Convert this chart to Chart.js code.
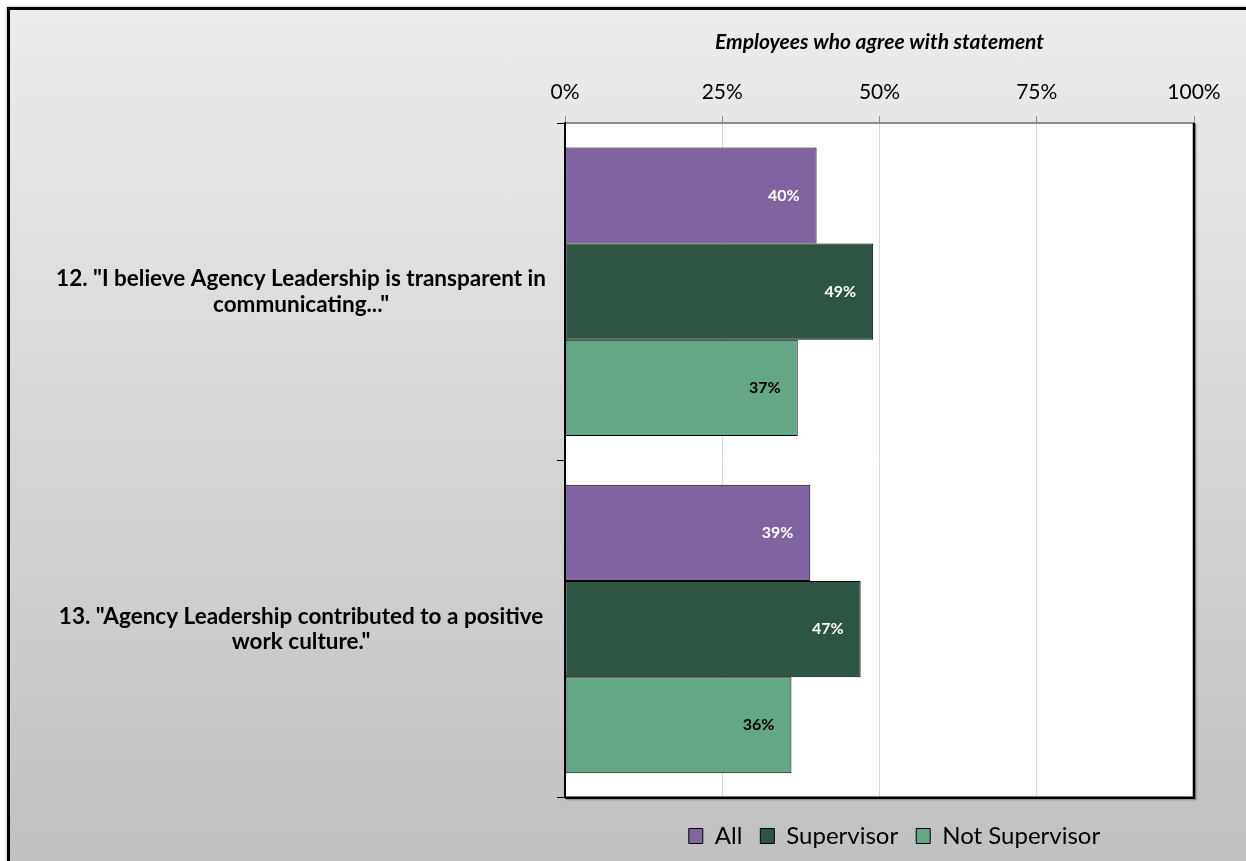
<!DOCTYPE html>
<html>
<head>
<meta charset="utf-8">
<script src="https://cdn.jsdelivr.net/npm/chart.js@4"></script>
<style>
  html, body { margin: 0; padding: 0; background: #fff; overflow: hidden; }
  .panel {
    position: absolute; left: 7px; top: 7px; width: 1300px; height: 900px;
    border: 3px solid #000;
    background: linear-gradient(#ececec, #bebebe);
    box-shadow: 0 0 3px rgba(0, 0, 0, 0.35);
  }
  #agreeChart { position: absolute; left: 0; top: 0; }
</style>
</head>
<body>
<div class="panel"></div>
<canvas id="agreeChart" width="1246" height="861"></canvas>
<script>
/* ---- Survey data ---- */

const questions = [
  ['12. "I believe Agency Leadership is transparent in', 'communicating..."'],
  ['13. "Agency Leadership contributed to a positive', 'work culture."'],
];
const seriesNames = ['All', 'Supervisor', 'Not Supervisor'];
const allValues = [40, 39];
const supervisorValues = [49, 47];
const notSupervisorValues = [37, 36];
const axisTicks = [0, 25, 50, 75, 100];

/* ---- Theme ---- */

const FONT = 'Lato, "Open Sans", sans-serif';
const seriesColors = ['#8064a2', '#2e5443', '#63a787'];
const labelColors = ['#ffffff', '#ffffff', '#000000'];

/* ---- Plugins ---- */

// white plot area plus the dark frame on its right and bottom edges
const plotFrame = {
  id: 'plotFrame',
  beforeDraw(chart) {
    const { ctx, chartArea: a } = chart;
    ctx.save();
    ctx.fillStyle = '#ffffff';
    ctx.fillRect(a.left, a.top, a.right - a.left, a.bottom - a.top);
    ctx.restore();
  },
  afterDraw(chart) {
    const { ctx, chartArea: a } = chart;
    ctx.save();
    ctx.strokeStyle = '#000';
    ctx.lineWidth = 2.5;
    ctx.shadowColor = 'rgba(0,0,0,0.35)';
    ctx.shadowOffsetX = 1;
    ctx.shadowOffsetY = 1;
    ctx.shadowBlur = 2;
    ctx.beginPath();
    ctx.moveTo(a.right, a.top);
    ctx.lineTo(a.right, a.bottom);
    ctx.lineTo(a.left, a.bottom);
    ctx.stroke();
    ctx.restore();
  },
};

// the legend sits centred on the whole panel, a little right of the plot
const legendShift = {
  id: 'legendShift',
  afterLayout(chart) {
    chart.legend.left += 15;
    chart.legend.right += 15;
  },
};

// percentage written just inside the end of each bar
const valueLabels = {
  id: 'valueLabels',
  afterDatasetsDraw(chart) {
    const { ctx } = chart;
    ctx.save();
    ctx.font = `bold 16px ${FONT}`;
    ctx.textAlign = 'right';
    ctx.textBaseline = 'middle';
    chart.data.datasets.forEach((ds, i) => {
      ctx.fillStyle = labelColors[i];
      chart.getDatasetMeta(i).data.forEach((bar, j) => {
        ctx.fillText(`${ds.data[j]}%`, bar.x - 17, bar.y);
      });
    });
    ctx.restore();
  },
};

/* ---- Chart ---- */

const seriesData = [allValues, supervisorValues, notSupervisorValues];

new Chart(document.getElementById('agreeChart'), {
  type: 'bar',
  data: {
    labels: questions,
    datasets: seriesNames.map((name, i) => ({
      label: name,
      data: seriesData[i],
      backgroundColor: seriesColors[i],
      borderColor: '#000',
      borderWidth: 1,
      borderSkipped: false,
      categoryPercentage: 0.855,
      barPercentage: 1,
    })),
  },
  options: {
    indexAxis: 'y',
    responsive: false,
    animation: false,
    layout: { padding: { top: 0, right: 52, bottom: 3, left: 10 } },
    plugins: {
      tooltip: { enabled: false },
      legend: {
        position: 'bottom',
        fullSize: false,
        title: { display: true, text: ' ', font: { size: 1 }, padding: { top: 7, bottom: 0 } },
        labels: {
          color: '#000',
          font: { family: FONT, size: 24 },
          boxWidth: 14,
          boxHeight: 15,
          padding: 18,
        },
      },
    },
    scales: {
      x: {
        position: 'top',
        min: 0,
        max: 100,
        afterBuildTicks: (scale) => {
          scale.ticks = axisTicks.map((v) => ({ value: v }));
        },
        afterFit: (scale) => { scale.height = 123; },
        ticks: {
          color: '#000',
          font: { family: FONT, size: 21 },
          padding: 11,
          callback: (v) => `${v}%`,
        },
        grid: {
          color: (c) => (c.index === 0 || c.index === axisTicks.length - 1 ? '#000' : '#d9d9d9'),
          tickColor: '#8c8c8c',
          tickLength: 7,
        },
        border: { color: '#8c8c8c', width: 2 },
        title: {
          display: true,
          text: 'Employees who agree with statement',
          color: '#000',
          font: { family: FONT, size: 21, weight: 'bold', style: 'italic' },
          padding: { top: 30, bottom: 0 },
        },
      },
      y: {
        afterFit: (scale) => { scale.width = 555; },
        ticks: {
          color: '#000',
          crossAlign: 'center',
          padding: 11,
          font: { family: FONT, size: 22.5, weight: 'bold', lineHeight: 1.12 },
        },
        grid: {
          drawOnChartArea: false,
          tickColor: '#000',
          tickLength: 8,
        },
        border: { color: '#000', width: 2 },
      },
    },
  },
  plugins: [plotFrame, legendShift, valueLabels],
});
</script>
</body>
</html>
